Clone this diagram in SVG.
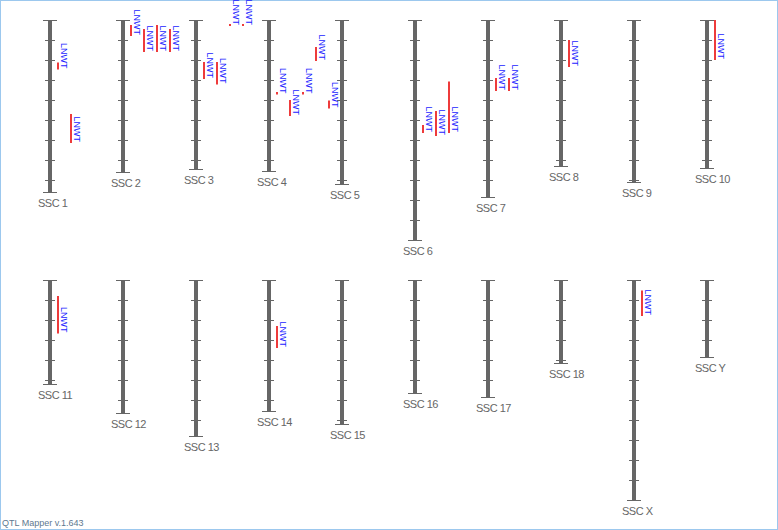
<svg xmlns="http://www.w3.org/2000/svg" width="778" height="530" viewBox="0 0 778 530">
<style>
.bar{fill:#666}
.cap{stroke:#666;stroke-width:1;fill:none}
.tick{stroke:#666;stroke-width:1;fill:none}
.lbl{font-family:"Liberation Sans",Arial,sans-serif;font-size:11px;fill:#666;letter-spacing:-0.5px}
.q{stroke:#ee3b3b;stroke-width:2}
.qt{font-family:"Liberation Sans",Arial,sans-serif;font-size:9px;fill:#1a1aff;text-anchor:end}
.foot{font-family:"Liberation Sans",Arial,sans-serif;font-size:9px;fill:#607890}
</style>
<rect x="0.5" y="0.5" width="777" height="529" fill="#fff" stroke="#9cc8ee"/>

<g id="ssc1">
<rect class="bar" x="48" y="20.5" width="4" height="172"/>
<path class="cap" d="M43 20.5h14M43 192.5h14"/>
<path class="tick" d="M45 40.5h10M45 60.5h10M45 80.5h10M45 100.5h10M45 120.5h10M45 140.5h10M45 160.5h10M45 180.5h10"/>
<text class="lbl" x="38" y="207">SSC 1</text>
<line class="q" x1="58" y1="62.5" x2="58" y2="69.5"/><text class="qt" transform="translate(60.5,68.5) rotate(90)">LNWT</text>
<line class="q" x1="71" y1="114" x2="71" y2="143"/><text class="qt" transform="translate(73.5,142) rotate(90)">LNWT</text>
</g>

<g id="ssc2">
<rect class="bar" x="121" y="20.5" width="4" height="152"/>
<path class="cap" d="M116 20.5h14M116 172.5h14"/>
<path class="tick" d="M118 40.5h10M118 60.5h10M118 80.5h10M118 100.5h10M118 120.5h10M118 140.5h10M118 160.5h10"/>
<text class="lbl" x="111" y="187">SSC 2</text>
<line class="q" x1="131" y1="25" x2="131" y2="36"/><text class="qt" transform="translate(133.5,35) rotate(90)">LNWT</text>
<line class="q" x1="144" y1="29" x2="144" y2="52"/><text class="qt" transform="translate(146.5,51) rotate(90)">LNWT</text>
<line class="q" x1="157" y1="25" x2="157" y2="52"/><text class="qt" transform="translate(159.5,51) rotate(90)">LNWT</text>
<line class="q" x1="170" y1="29" x2="170" y2="52"/><text class="qt" transform="translate(172.5,51) rotate(90)">LNWT</text>
</g>

<g id="ssc3">
<rect class="bar" x="194" y="20.5" width="4" height="149"/>
<path class="cap" d="M189 20.5h14M189 169.5h14"/>
<path class="tick" d="M191 40.5h10M191 60.5h10M191 80.5h10M191 100.5h10M191 120.5h10M191 140.5h10M191 160.5h10"/>
<text class="lbl" x="184" y="184">SSC 3</text>
<line class="q" x1="204" y1="62" x2="204" y2="79"/><text class="qt" transform="translate(206.5,78) rotate(90)">LNWT</text>
<line class="q" x1="217" y1="62" x2="217" y2="84.5"/><text class="qt" transform="translate(219.5,83.5) rotate(90)">LNWT</text>
<line class="q" x1="230" y1="24" x2="230" y2="26"/><text class="qt" transform="translate(232.5,25) rotate(90)">LNWT</text>
<line class="q" x1="243" y1="24" x2="243" y2="26"/><text class="qt" transform="translate(245.5,25) rotate(90)">LNWT</text>
</g>

<g id="ssc4">
<rect class="bar" x="267" y="20.5" width="4" height="151"/>
<path class="cap" d="M262 20.5h14M262 171.5h14"/>
<path class="tick" d="M264 40.5h10M264 60.5h10M264 80.5h10M264 100.5h10M264 120.5h10M264 140.5h10M264 160.5h10"/>
<text class="lbl" x="257" y="186">SSC 4</text>
<line class="q" x1="277" y1="92" x2="277" y2="94.5"/><text class="qt" transform="translate(279.5,93.5) rotate(90)">LNWT</text>
<line class="q" x1="290" y1="100" x2="290" y2="116"/><text class="qt" transform="translate(292.5,115) rotate(90)">LNWT</text>
<line class="q" x1="303" y1="92" x2="303" y2="94.5"/><text class="qt" transform="translate(305.5,93.5) rotate(90)">LNWT</text>
<line class="q" x1="316" y1="47" x2="316" y2="61"/><text class="qt" transform="translate(318.5,60) rotate(90)">LNWT</text>
<line class="q" x1="329" y1="100.5" x2="329" y2="108.5"/><text class="qt" transform="translate(331.5,107.5) rotate(90)">LNWT</text>
</g>

<g id="ssc5">
<rect class="bar" x="340" y="20.5" width="4" height="164"/>
<path class="cap" d="M335 20.5h14M335 184.5h14"/>
<path class="tick" d="M337 40.5h10M337 60.5h10M337 80.5h10M337 100.5h10M337 120.5h10M337 140.5h10M337 160.5h10M337 180.5h10"/>
<text class="lbl" x="330" y="199">SSC 5</text>
</g>

<g id="ssc6">
<rect class="bar" x="413" y="20.5" width="4" height="220"/>
<path class="cap" d="M408 20.5h14M408 240.5h14"/>
<path class="tick" d="M410 40.5h10M410 60.5h10M410 80.5h10M410 100.5h10M410 120.5h10M410 140.5h10M410 160.5h10M410 180.5h10M410 200.5h10M410 220.5h10"/>
<text class="lbl" x="403" y="255">SSC 6</text>
<line class="q" x1="423" y1="125" x2="423" y2="133"/><text class="qt" transform="translate(425.5,132) rotate(90)">LNWT</text>
<line class="q" x1="436" y1="111" x2="436" y2="136"/><text class="qt" transform="translate(438.5,135) rotate(90)">LNWT</text>
<line class="q" x1="449" y1="81.5" x2="449" y2="133"/><text class="qt" transform="translate(451.5,132) rotate(90)">LNWT</text>
</g>

<g id="ssc7">
<rect class="bar" x="486" y="20.5" width="4" height="177"/>
<path class="cap" d="M481 20.5h14M481 197.5h14"/>
<path class="tick" d="M483 40.5h10M483 60.5h10M483 80.5h10M483 100.5h10M483 120.5h10M483 140.5h10M483 160.5h10M483 180.5h10"/>
<text class="lbl" x="476" y="212">SSC 7</text>
<line class="q" x1="496" y1="78" x2="496" y2="91"/><text class="qt" transform="translate(498.5,90) rotate(90)">LNWT</text>
<line class="q" x1="509" y1="78" x2="509" y2="91"/><text class="qt" transform="translate(511.5,90) rotate(90)">LNWT</text>
</g>

<g id="ssc8">
<rect class="bar" x="559" y="20.5" width="4" height="146"/>
<path class="cap" d="M554 20.5h14M554 166.5h14"/>
<path class="tick" d="M556 40.5h10M556 60.5h10M556 80.5h10M556 100.5h10M556 120.5h10M556 140.5h10M556 160.5h10"/>
<text class="lbl" x="549" y="181">SSC 8</text>
<line class="q" x1="569" y1="40" x2="569" y2="67"/><text class="qt" transform="translate(571.5,66) rotate(90)">LNWT</text>
</g>

<g id="ssc9">
<rect class="bar" x="632" y="20.5" width="4" height="162"/>
<path class="cap" d="M627 20.5h14M627 182.5h14"/>
<path class="tick" d="M629 40.5h10M629 60.5h10M629 80.5h10M629 100.5h10M629 120.5h10M629 140.5h10M629 160.5h10M629 180.5h10"/>
<text class="lbl" x="622" y="197">SSC 9</text>
</g>

<g id="ssc10">
<rect class="bar" x="705" y="20.5" width="4" height="148"/>
<path class="cap" d="M700 20.5h14M700 168.5h14"/>
<path class="tick" d="M702 40.5h10M702 60.5h10M702 80.5h10M702 100.5h10M702 120.5h10M702 140.5h10M702 160.5h10"/>
<text class="lbl" x="695" y="183">SSC 10</text>
<line class="q" x1="715" y1="20" x2="715" y2="60"/><text class="qt" transform="translate(717.5,59) rotate(90)">LNWT</text>
</g>

<g id="ssc11">
<rect class="bar" x="48" y="280.5" width="4" height="104"/>
<path class="cap" d="M43 280.5h14M43 384.5h14"/>
<path class="tick" d="M45 300.5h10M45 320.5h10M45 340.5h10M45 360.5h10M45 380.5h10"/>
<text class="lbl" x="38" y="399">SSC 11</text>
<line class="q" x1="58" y1="296" x2="58" y2="333.5"/><text class="qt" transform="translate(60.5,332.5) rotate(90)">LNWT</text>
</g>

<g id="ssc12">
<rect class="bar" x="121" y="280.5" width="4" height="133"/>
<path class="cap" d="M116 280.5h14M116 413.5h14"/>
<path class="tick" d="M118 300.5h10M118 320.5h10M118 340.5h10M118 360.5h10M118 380.5h10M118 400.5h10"/>
<text class="lbl" x="111" y="428">SSC 12</text>
</g>

<g id="ssc13">
<rect class="bar" x="194" y="280.5" width="4" height="156"/>
<path class="cap" d="M189 280.5h14M189 436.5h14"/>
<path class="tick" d="M191 300.5h10M191 320.5h10M191 340.5h10M191 360.5h10M191 380.5h10M191 400.5h10M191 420.5h10"/>
<text class="lbl" x="184" y="451">SSC 13</text>
</g>

<g id="ssc14">
<rect class="bar" x="267" y="280.5" width="4" height="131"/>
<path class="cap" d="M262 280.5h14M262 411.5h14"/>
<path class="tick" d="M264 300.5h10M264 320.5h10M264 340.5h10M264 360.5h10M264 380.5h10M264 400.5h10"/>
<text class="lbl" x="257" y="426">SSC 14</text>
<line class="q" x1="277" y1="326" x2="277" y2="348"/><text class="qt" transform="translate(279.5,347) rotate(90)">LNWT</text>
</g>

<g id="ssc15">
<rect class="bar" x="340" y="280.5" width="4" height="144"/>
<path class="cap" d="M335 280.5h14M335 424.5h14"/>
<path class="tick" d="M337 300.5h10M337 320.5h10M337 340.5h10M337 360.5h10M337 380.5h10M337 400.5h10M337 420.5h10"/>
<text class="lbl" x="330" y="439">SSC 15</text>
</g>

<g id="ssc16">
<rect class="bar" x="413" y="280.5" width="4" height="113"/>
<path class="cap" d="M408 280.5h14M408 393.5h14"/>
<path class="tick" d="M410 300.5h10M410 320.5h10M410 340.5h10M410 360.5h10M410 380.5h10"/>
<text class="lbl" x="403" y="408">SSC 16</text>
</g>

<g id="ssc17">
<rect class="bar" x="486" y="280.5" width="4" height="117"/>
<path class="cap" d="M481 280.5h14M481 397.5h14"/>
<path class="tick" d="M483 300.5h10M483 320.5h10M483 340.5h10M483 360.5h10M483 380.5h10"/>
<text class="lbl" x="476" y="412">SSC 17</text>
</g>

<g id="ssc18">
<rect class="bar" x="559" y="280.5" width="4" height="83"/>
<path class="cap" d="M554 280.5h14M554 363.5h14"/>
<path class="tick" d="M556 300.5h10M556 320.5h10M556 340.5h10M556 360.5h10"/>
<text class="lbl" x="549" y="378">SSC 18</text>
</g>

<g id="sscX">
<rect class="bar" x="632" y="280.5" width="4" height="220"/>
<path class="cap" d="M627 280.5h14M627 500.5h14"/>
<path class="tick" d="M629 300.5h10M629 320.5h10M629 340.5h10M629 360.5h10M629 380.5h10M629 400.5h10M629 420.5h10M629 440.5h10M629 460.5h10M629 480.5h10"/>
<text class="lbl" x="622" y="515">SSC X</text>
<line class="q" x1="642" y1="290.5" x2="642" y2="316"/><text class="qt" transform="translate(644.5,315) rotate(90)">LNWT</text>
</g>

<g id="sscY">
<rect class="bar" x="705" y="280.5" width="4" height="77"/>
<path class="cap" d="M700 280.5h14M700 357.5h14"/>
<path class="tick" d="M702 300.5h10M702 320.5h10M702 340.5h10"/>
<text class="lbl" x="695" y="372">SSC Y</text>
</g>

<text class="foot" x="2" y="526">QTL Mapper v.1.643</text>
</svg>
